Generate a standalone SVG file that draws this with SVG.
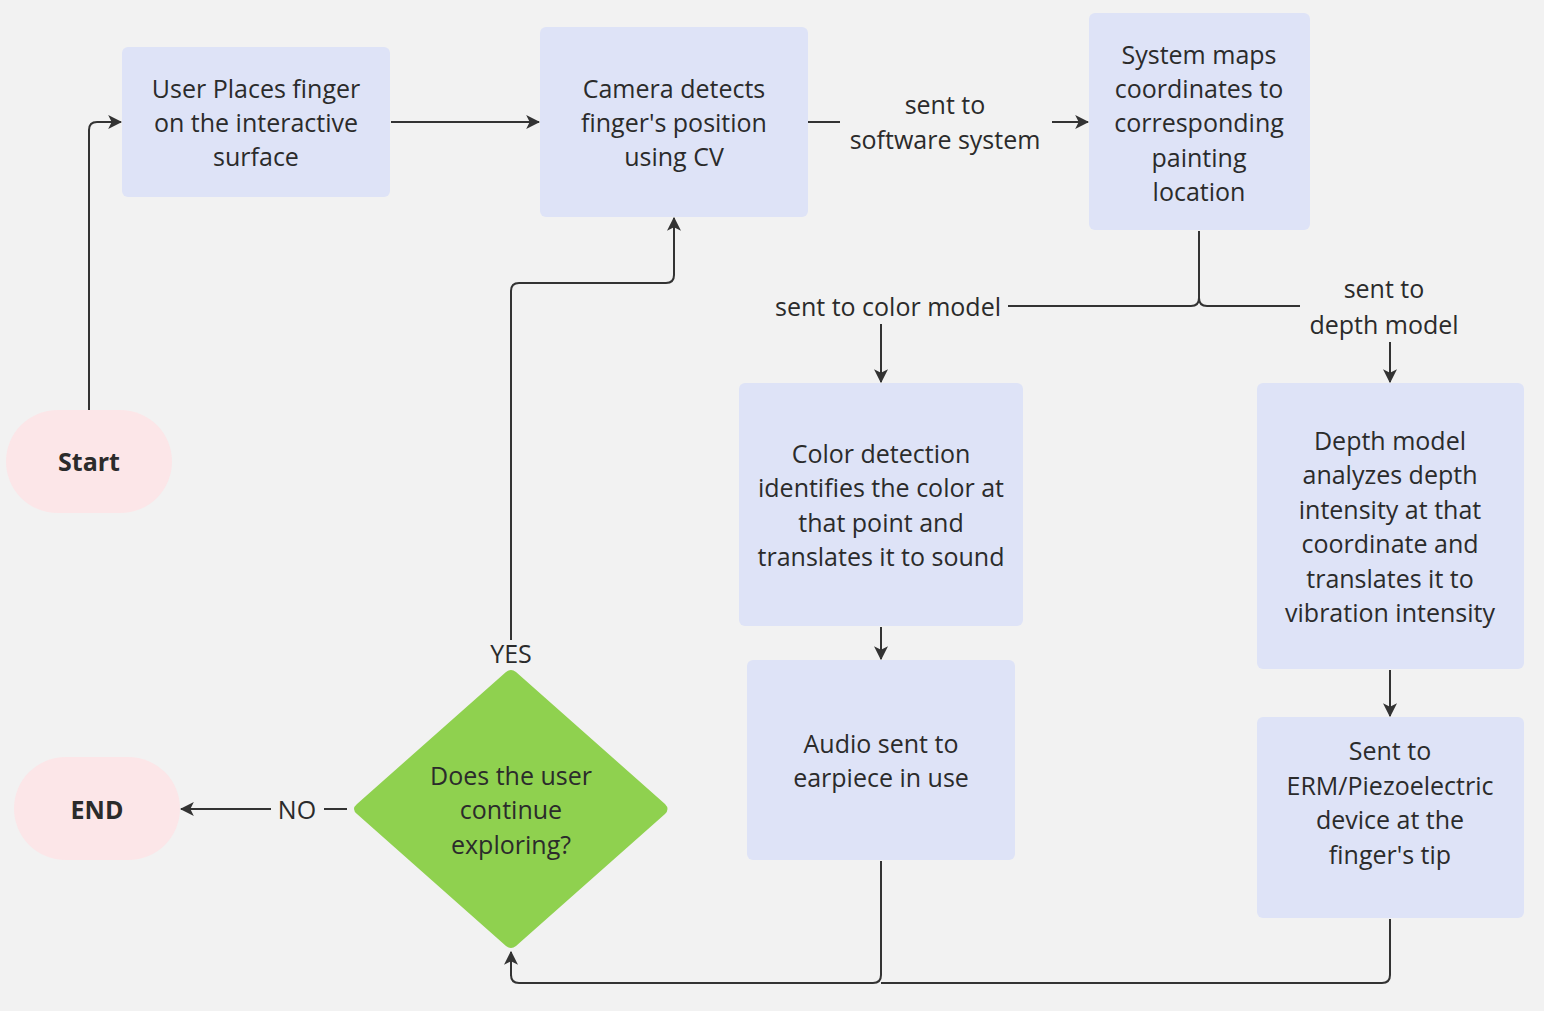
<svg xmlns="http://www.w3.org/2000/svg" width="1544" height="1011" viewBox="0 0 1544 1011">
<defs>
<marker id="ah" viewBox="0 0 12 12" refX="11" refY="6" markerWidth="14" markerHeight="14" markerUnits="userSpaceOnUse" orient="auto">
<path d="M0,0 L12,6 L0,12 L3,6 Z" fill="#333"/>
</marker>
</defs>
<style>
.box{fill:#dee3f7;}
.term{fill:#fce6e8;}
.t{font-family:"Open Sans","Noto Sans","DejaVu Sans",sans-serif;font-size:25px;fill:#2b2b2b;text-anchor:middle;dominant-baseline:central;}
.b{font-weight:bold;}
.c{fill:none;stroke:#333;stroke-width:2;}
.a{marker-end:url(#ah);}
</style>
<rect width="1544" height="1011" fill="#f2f2f2"/>
<g id="connectors">
<path class="c a" d="M89,410 V130 Q89,122 97,122 H121"/>
<path class="c a" d="M391,122 H539"/>
<path class="c" d="M808,122 H840"/>
<path class="c a" d="M1052,122 H1088"/>
<path class="c" d="M1199,231 V298 Q1199,306 1191,306 H1008"/>
<path class="c" d="M1199,298 Q1199,306 1207,306 H1300"/>
<path class="c a" d="M881,324 V382"/>
<path class="c a" d="M1390,342 V382"/>
<path class="c a" d="M881,627 V659"/>
<path class="c a" d="M1390,670 V716"/>
<path class="c" d="M881,861 V975 Q881,983 873,983 H519 Q511,983 511,975"/>
<path class="c a" d="M511,976 V952"/>
<path class="c" d="M1390,919 V975 Q1390,983 1382,983 H881"/>
<path class="c a" d="M511,640 V291 Q511,283 519,283 H666 Q674,283 674,275 V218"/>
<path class="c" d="M347,809 H324"/>
<path class="c a" d="M271,809 H181"/>
<text class="t" x="945" y="104">sent to</text>
<text class="t" x="945" y="139">software system</text>
<text class="t" x="888" y="306">sent to color model</text>
<text class="t" x="1384" y="288">sent to</text>
<text class="t" x="1384" y="324">depth model</text>
<text class="t" x="511" y="653">YES</text>
<text class="t" x="297" y="809">NO</text>
</g>
<g id="start">
<rect class="term" x="6" y="410" width="166" height="103" rx="51.5"/>
<text class="t b" x="89" y="461">Start</text>
</g>
<g id="end">
<rect class="term" x="14" y="757" width="166" height="103" rx="51.5"/>
<text class="t b" x="97" y="809">END</text>
</g>
<g id="n1">
<rect class="box" x="122" y="47" width="268" height="150" rx="6"/>
<text class="t" x="256" y="88">User Places finger</text>
<text class="t" x="256" y="122">on the interactive</text>
<text class="t" x="256" y="156">surface</text>
</g>
<g id="n2">
<rect class="box" x="540" y="27" width="268" height="190" rx="6"/>
<text class="t" x="674" y="88">Camera detects</text>
<text class="t" x="674" y="122">finger's position</text>
<text class="t" x="674" y="156">using CV</text>
</g>
<g id="n3">
<rect class="box" x="1089" y="13" width="221" height="217" rx="6"/>
<text class="t" x="1199" y="54">System maps</text>
<text class="t" x="1199" y="88">coordinates to</text>
<text class="t" x="1199" y="122">corresponding</text>
<text class="t" x="1199" y="157">painting</text>
<text class="t" x="1199" y="191">location</text>
</g>
<g id="n4">
<rect class="box" x="739" y="383" width="284" height="243" rx="6"/>
<text class="t" x="881" y="453">Color detection</text>
<text class="t" x="881" y="487">identifies the color at</text>
<text class="t" x="881" y="522">that point and</text>
<text class="t" x="881" y="556">translates it to sound</text>
</g>
<g id="n5">
<rect class="box" x="1257" y="383" width="267" height="286" rx="6"/>
<text class="t" x="1390" y="440">Depth model</text>
<text class="t" x="1390" y="474">analyzes depth</text>
<text class="t" x="1390" y="509">intensity at that</text>
<text class="t" x="1390" y="543">coordinate and</text>
<text class="t" x="1390" y="578">translates it to</text>
<text class="t" x="1390" y="612">vibration intensity</text>
</g>
<g id="n6">
<rect class="box" x="747" y="660" width="268" height="200" rx="6"/>
<text class="t" x="881" y="743">Audio sent to</text>
<text class="t" x="881" y="777">earpiece in use</text>
</g>
<g id="n7">
<rect class="box" x="1257" y="717" width="267" height="201" rx="6"/>
<text class="t" x="1390" y="750">Sent to</text>
<text class="t" x="1390" y="785">ERM/Piezoelectric</text>
<text class="t" x="1390" y="819">device at the</text>
<text class="t" x="1390" y="854">finger's tip</text>
</g>
<g id="decision">
<path d="M506,672 Q511,668 516,672 L665,804 Q670,809 665,814 L516,946 Q511,950 506,946 L357,814 Q351,809 357,804 Z" fill="#8fd14f"/>
<text class="t" x="511" y="775">Does the user</text>
<text class="t" x="511" y="809">continue</text>
<text class="t" x="511" y="844">exploring?</text>
</g>
</svg>
